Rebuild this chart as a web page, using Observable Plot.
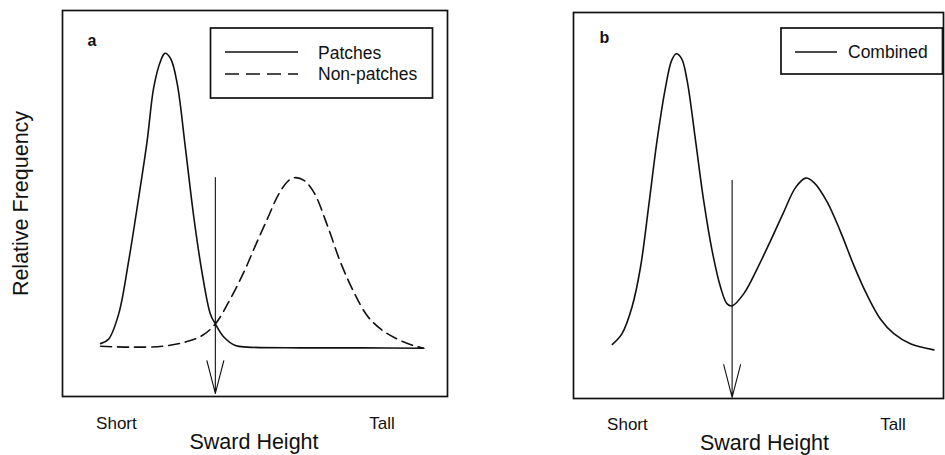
<!DOCTYPE html>
<html><head><meta charset="utf-8">
<script src="https://cdn.jsdelivr.net/npm/d3@7"></script>
<script src="https://cdn.jsdelivr.net/npm/@observablehq/plot@0.6"></script>
<style>
body{margin:0;background:#fff;font-family:"Liberation Sans",Arial,sans-serif;}
#wrap{position:relative;width:945px;height:455px;overflow:hidden;background:#fff;}
.panel{position:absolute;top:0;}
#overlay{position:absolute;left:0;top:0;pointer-events:none;}
</style></head><body><div id="wrap"></div>
<script>
// ---- data (arbitrary units) ----
const patchesX = [0.99,1.20,1.46,1.72,1.98,2.20,2.37,2.55,2.66,2.81,2.98,3.19,3.41,3.63,3.84,3.97,4.19,4.49,4.80,6.18,7.74,9.38];
const patchesY = [1.37,1.49,2.14,3.52,5.16,6.63,8.01,8.70,8.89,8.75,8.10,6.46,4.65,3.18,2.14,1.88,1.54,1.32,1.28,1.26,1.26,1.25];
const nonPatchesX = [0.99,1.72,2.59,3.19,3.63,3.97,4.36,4.71,5.01,5.32,5.62,5.88,6.05,6.27,6.53,6.88,7.22,7.57,7.91,8.26,8.69,9.12,9.38];
const nonPatchesY = [1.30,1.28,1.30,1.41,1.58,1.88,2.53,3.22,3.91,4.60,5.25,5.60,5.67,5.60,5.29,4.43,3.48,2.70,2.10,1.75,1.49,1.32,1.25];
const combinedX = [1.01,1.26,1.52,1.74,1.96,2.17,2.39,2.55,2.67,2.81,2.95,3.17,3.38,3.60,3.82,3.99,4.12,4.42,4.77,5.12,5.46,5.77,6.03,6.24,6.59,6.94,7.28,7.63,7.97,8.32,8.75,9.36];
const combinedY = [1.40,1.68,2.37,3.40,5.04,6.68,8.06,8.76,8.93,8.80,8.24,6.68,5.13,3.83,2.88,2.45,2.40,2.71,3.36,4.09,4.83,5.47,5.71,5.60,5.09,4.31,3.45,2.67,2.06,1.68,1.42,1.26];
const thresholdA = {x: 3.97, top: 5.67, tip: 0.08};
const thresholdB = {x: 4.12, top: 5.65, tip: 0.03};
const tickPositions = [1.4, 8.3];
const tickLabels = ["Short", "Tall"];
const xLabel = "Sward Height";
const yLabel = "Relative Frequency";
const seriesNames = ["Patches", "Non-patches", "Combined"];

const zip = (X, Y) => X.map((x, i) => ({x, y: Y[i]}));
const patches = zip(patchesX, patchesY);
const nonPatches = zip(nonPatchesX, nonPatchesY);
const combined = zip(combinedX, combinedY);
const ticks = tickPositions.map((x, i) => ({x, label: tickLabels[i]}));

const FONT = '"Liberation Sans", Arial, sans-serif';
const INK = "#111";
const common = {
  height: 455,
  style: {fontFamily: FONT, background: "transparent", color: INK},
  y: {domain: [0, 10], axis: null}
};
const txt = {textAnchor: "middle", lineAnchor: "middle", fill: INK};

const plotA = Plot.plot({
  ...common,
  width: 472,
  marginLeft: 62, marginRight: 25, marginTop: 10, marginBottom: 59,
  x: {domain: [0, 10], axis: null},
  marks: [
    Plot.frame({stroke: INK, strokeWidth: 1.7}),
    Plot.line(patches, {x: "x", y: "y", curve: "catmull-rom", stroke: INK, strokeWidth: 1.6}),
    Plot.line(nonPatches, {x: "x", y: "y", curve: "catmull-rom", stroke: INK, strokeWidth: 1.6, strokeDasharray: "11,6"}),
    Plot.arrow([thresholdA], {x1: "x", x2: "x", y1: "top", y2: "tip", stroke: INK, strokeWidth: 1.1, headLength: 46, headAngle: 29}),
    Plot.text(ticks, {...txt, x: "x", text: "label", frameAnchor: "bottom", dy: 27, fontSize: 17}),
    Plot.text([xLabel], {...txt, frameAnchor: "bottom", dx: -1, dy: 46, fontSize: 21.5}),
    Plot.text([yLabel], {...txt, frameAnchor: "left", dx: -41.7, rotate: -90, fontSize: 21.5}),
    Plot.text(["a"], {...txt, frameAnchor: "top-left", dx: 29.5, dy: 30, fontSize: 16, fontWeight: "bold"})
  ]
});

const plotB = Plot.plot({
  ...common,
  width: 473,
  marginLeft: 101, marginRight: 2, marginTop: 12, marginBottom: 57,
  x: {domain: [0, 9.61], axis: null},
  marks: [
    Plot.frame({stroke: INK, strokeWidth: 1.7}),
    Plot.line(combined, {x: "x", y: "y", curve: "catmull-rom", stroke: INK, strokeWidth: 1.6}),
    Plot.arrow([thresholdB], {x1: "x", x2: "x", y1: "top", y2: "tip", stroke: INK, strokeWidth: 1.1, headLength: 46, headAngle: 29}),
    Plot.text(ticks, {...txt, x: "x", text: "label", frameAnchor: "bottom", dy: 26, fontSize: 17}),
    Plot.text([xLabel], {...txt, frameAnchor: "bottom", dx: 6, dy: 44.5, fontSize: 21.5}),
    Plot.text(["b"], {...txt, frameAnchor: "top-left", dx: 31, dy: 25, fontSize: 16, fontWeight: "bold"})
  ]
});

const wrap = document.getElementById("wrap");
plotA.classList.add("panel"); plotA.style.left = "0px";
plotB.classList.add("panel"); plotB.style.left = "472px";
wrap.appendChild(plotA);
wrap.appendChild(plotB);

// ---- legends (overlay) ----
const NS = "http://www.w3.org/2000/svg";
const ov = document.createElementNS(NS, "svg");
ov.setAttribute("id", "overlay");
ov.setAttribute("width", 945); ov.setAttribute("height", 455);
function el(tag, attrs, text) {
  const e = document.createElementNS(NS, tag);
  for (const k in attrs) e.setAttribute(k, attrs[k]);
  if (text) e.textContent = text;
  ov.appendChild(e);
  return e;
}
const legendFont = {"font-family": FONT, "font-size": 17.5, fill: INK};
// panel a legend
el("rect", {x: 210.5, y: 28, width: 222, height: 70, fill: "#fff", stroke: INK, "stroke-width": 1.7});
el("line", {x1: 225, x2: 298, y1: 52, y2: 52, stroke: INK, "stroke-width": 1.6});
el("line", {x1: 225, x2: 298, y1: 74, y2: 74, stroke: INK, "stroke-width": 1.6, "stroke-dasharray": "14,7"});
el("text", {...legendFont, x: 318, y: 59}, seriesNames[0]);
el("text", {...legendFont, x: 318, y: 80.3}, seriesNames[1]);
// panel b legend
el("rect", {x: 781, y: 28, width: 161.5, height: 46, fill: "#fff", stroke: INK, "stroke-width": 1.7});
el("line", {x1: 795, x2: 837, y1: 52, y2: 52, stroke: INK, "stroke-width": 1.6});
el("text", {...legendFont, x: 848, y: 58.3}, seriesNames[2]);
wrap.appendChild(ov);
</script></body></html>
